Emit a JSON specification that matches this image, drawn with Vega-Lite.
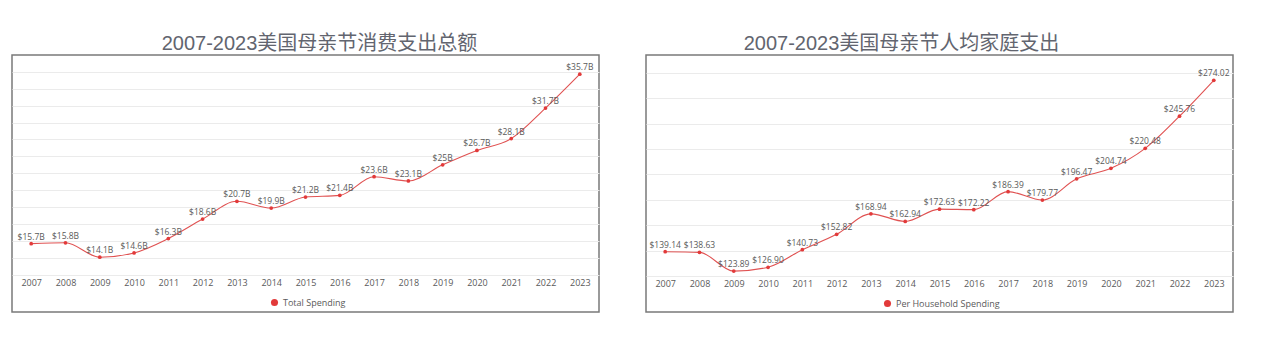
{
  "$schema": "https://vega.github.io/schema/vega-lite/v6.json",
  "background": "white",
  "padding": {"left": 11, "top": 33, "right": 0, "bottom": 0},
  "autosize": {"type": "pad"},
  "datasets": {
    "total": [
      {"year": "2007", "value": 15.7, "label": "$15.7B", "series": "Total Spending"},
      {"year": "2008", "value": 15.8, "label": "$15.8B", "series": "Total Spending"},
      {"year": "2009", "value": 14.1, "label": "$14.1B", "series": "Total Spending"},
      {"year": "2010", "value": 14.6, "label": "$14.6B", "series": "Total Spending"},
      {"year": "2011", "value": 16.3, "label": "$16.3B", "series": "Total Spending"},
      {"year": "2012", "value": 18.6, "label": "$18.6B", "series": "Total Spending"},
      {"year": "2013", "value": 20.7, "label": "$20.7B", "series": "Total Spending"},
      {"year": "2014", "value": 19.9, "label": "$19.9B", "series": "Total Spending"},
      {"year": "2015", "value": 21.2, "label": "$21.2B", "series": "Total Spending"},
      {"year": "2016", "value": 21.4, "label": "$21.4B", "series": "Total Spending"},
      {"year": "2017", "value": 23.6, "label": "$23.6B", "series": "Total Spending"},
      {"year": "2018", "value": 23.1, "label": "$23.1B", "series": "Total Spending"},
      {"year": "2019", "value": 25.0, "label": "$25B", "series": "Total Spending"},
      {"year": "2020", "value": 26.7, "label": "$26.7B", "series": "Total Spending"},
      {"year": "2021", "value": 28.1, "label": "$28.1B", "series": "Total Spending"},
      {"year": "2022", "value": 31.7, "label": "$31.7B", "series": "Total Spending"},
      {"year": "2023", "value": 35.7, "label": "$35.7B", "series": "Total Spending"}
    ],
    "household": [
      {"year": "2007", "value": 139.14, "label": "$139.14", "series": "Per Household Spending"},
      {"year": "2008", "value": 138.63, "label": "$138.63", "series": "Per Household Spending"},
      {"year": "2009", "value": 123.89, "label": "$123.89", "series": "Per Household Spending"},
      {"year": "2010", "value": 126.90, "label": "$126.90", "series": "Per Household Spending"},
      {"year": "2011", "value": 140.73, "label": "$140.73", "series": "Per Household Spending"},
      {"year": "2012", "value": 152.82, "label": "$152.82", "series": "Per Household Spending"},
      {"year": "2013", "value": 168.94, "label": "$168.94", "series": "Per Household Spending"},
      {"year": "2014", "value": 162.94, "label": "$162.94", "series": "Per Household Spending"},
      {"year": "2015", "value": 172.63, "label": "$172.63", "series": "Per Household Spending"},
      {"year": "2016", "value": 172.22, "label": "$172.22", "series": "Per Household Spending"},
      {"year": "2017", "value": 186.39, "label": "$186.39", "series": "Per Household Spending"},
      {"year": "2018", "value": 179.77, "label": "$179.77", "series": "Per Household Spending"},
      {"year": "2019", "value": 196.47, "label": "$196.47", "series": "Per Household Spending"},
      {"year": "2020", "value": 204.74, "label": "$204.74", "series": "Per Household Spending"},
      {"year": "2021", "value": 220.48, "label": "$220.48", "series": "Per Household Spending"},
      {"year": "2022", "value": 245.76, "label": "$245.76", "series": "Per Household Spending"},
      {"year": "2023", "value": 274.02, "label": "$274.02", "series": "Per Household Spending"}
    ]
  },
  "hconcat": [
    {
      "title": {"text": "2007-2023美国母亲节消费支出总额", "dx": 14},
      "width": 587,
      "height": 257,
      "data": {"name": "total"},
      "encoding": {
        "x": {"field": "year", "type": "ordinal", "sort": null,
              "scale": {"type": "point", "padding": 0.56},
              "axis": {"title": null, "labelAngle": 0, "domain": false, "ticks": false, "grid": false, "offset": -37, "labelPadding": 3}},
        "y": {"field": "value", "type": "quantitative",
              "scale": {"domain": [7.63, 37.97], "nice": false, "zero": false},
              "axis": {"title": null, "labels": false, "ticks": false, "domain": false, "grid": true,
                       "values": [12, 14, 16, 18, 20, 22, 24, 26, 28, 30, 32, 34, 36]}}
      },
      "layer": [
        {"mark": {"type": "line", "interpolate": "monotone", "color": "#e05252", "strokeWidth": 1.1}},
        {"mark": {"type": "point", "filled": true, "size": 14, "opacity": 1},
         "encoding": {"color": {"field": "series", "type": "nominal",
                                "scale": {"range": ["#e23a3a"]},
                                "legend": {"title": null, "orient": "none", "legendX": 258, "legendY": 243}}}},
        {"mark": {"type": "text", "dy": -7, "fontSize": 8.5, "color": "#5a5a5a", "font": "Open Sans"},
         "encoding": {"text": {"field": "label"}}}
      ]
    },
    {
      "title": {"text": "2007-2023美国母亲节人均家庭支出", "dx": -38},
      "width": 587,
      "height": 257,
      "data": {"name": "household"},
      "encoding": {
        "x": {"field": "year", "type": "ordinal", "sort": null,
              "scale": {"type": "point", "padding": 0.56},
              "axis": {"title": null, "labelAngle": 0, "domain": false, "ticks": false, "grid": false, "offset": -36, "labelPadding": 3}},
        "y": {"field": "value", "type": "quantitative",
              "scale": {"domain": [91.7, 293.9], "nice": false, "zero": false},
              "axis": {"title": null, "labels": false, "ticks": false, "domain": false, "grid": true,
                       "values": [120, 140, 160, 180, 200, 220, 240, 260, 280]}}
      },
      "layer": [
        {"mark": {"type": "line", "interpolate": "monotone", "color": "#e05252", "strokeWidth": 1.1}},
        {"mark": {"type": "point", "filled": true, "size": 14, "opacity": 1},
         "encoding": {"color": {"field": "series", "type": "nominal",
                                "scale": {"range": ["#e23a3a"]},
                                "legend": {"title": null, "orient": "none", "legendX": 237, "legendY": 244}}}},
        {"mark": {"type": "text", "dy": -7, "fontSize": 8.5, "color": "#5a5a5a", "font": "Open Sans"},
         "encoding": {"text": {"field": "label"}}}
      ]
    }
  ],
  "spacing": 45,
  "resolve": {"scale": {"color": "independent", "x": "independent", "y": "independent"}, "legend": {"color": "independent"}},
  "config": {
    "view": {"stroke": "#7a7a7a", "strokeWidth": 1.5},
    "title": {"font": "Liberation Sans, Noto Sans CJK SC", "fontSize": 20, "fontWeight": "normal", "color": "#62656f", "anchor": "middle", "baseline": "alphabetic", "offset": 1},
    "axis": {"labelFont": "Open Sans", "labelFontSize": 9, "labelColor": "#5a5a5a", "gridColor": "#ebebeb", "gridWidth": 1},
    "legend": {"labelFont": "Open Sans", "labelFontSize": 9, "labelColor": "#5a5a5a", "symbolType": "circle", "symbolSize": 50, "symbolStrokeWidth": 0}
  }
}
